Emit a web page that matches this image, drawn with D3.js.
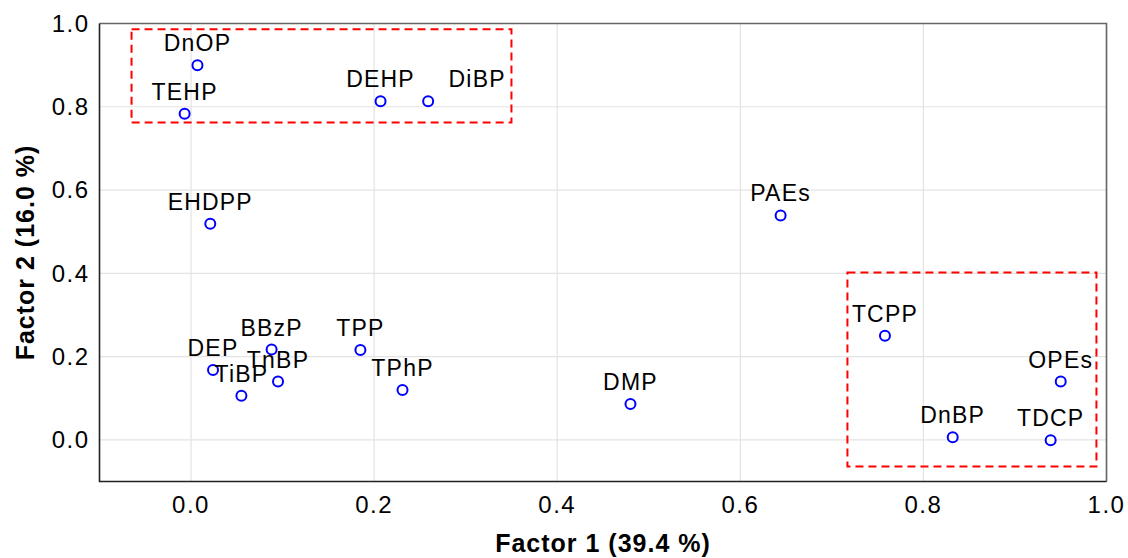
<!DOCTYPE html>
<meta charset="utf-8">
<style>
body { margin: 0; background: #fff; }
text { font-family: "Liberation Sans", Arial, sans-serif; fill: #000; }
.grid line { stroke: #e3e3e3; stroke-width: 1.2px; }
.tick-label { font-size: 24px; letter-spacing: 1.5px; }
.pt-label { font-size: 23px; letter-spacing: 1.2px; }
.axis-title { font-size: 25px; font-weight: bold; letter-spacing: 1px; }
.pts circle { fill: #fff; stroke: #0000ff; stroke-width: 2px; }
.box { fill: none; stroke: #ff0000; stroke-width: 2px; stroke-dasharray: 8,5; }
</style>
<svg width="1128" height="558"></svg>
<script src="https://d3js.org/d3.v7.min.js"></script>
<script>

// compound names and factor loadings
var names = ["DnOP", "TEHP", "DEHP", "DiBP", "EHDPP", "PAEs", "DEP", "TiBP", "BBzP", "TnBP",
             "TPP", "TPhP", "DMP", "TCPP", "OPEs", "DnBP", "TDCP"];
var factor1 = [0.007, -0.007, 0.207, 0.259, 0.021, 0.644, 0.024, 0.055, 0.088, 0.095,
               0.185, 0.231, 0.480, 0.758, 0.950, 0.832, 0.939];
var factor2 = [0.900, 0.783, 0.813, 0.813, 0.519, 0.539, 0.168, 0.106, 0.217, 0.140,
               0.216, 0.120, 0.086, 0.250, 0.140, 0.006, -0.001];

// dashed groupings [x1, x2, y1, y2] in data units
var groupBoxes = [[-0.065, 0.350, 0.762, 0.986], [0.717, 0.989, -0.064, 0.402]];

var xTicks = [0.0, 0.2, 0.4, 0.6, 0.8, 1.0];
var yTicks = [0.0, 0.2, 0.4, 0.6, 0.8, 1.0];

var svg = d3.select("svg"),
    width = +svg.attr("width"),
    height = +svg.attr("height"),
    margin = {top: 23.5, right: 21.5, bottom: 76.5, left: 99.5};

var x = d3.scaleLinear().domain([-0.1, 1.0]).range([margin.left, width - margin.right]);
var y = d3.scaleLinear().domain([-0.1, 1.0]).range([height - margin.bottom, margin.top]);

var grid = svg.append("g").attr("class", "grid");
grid.selectAll("line.v").data(xTicks).enter().append("line")
    .attr("x1", function(d) { return x(d); }).attr("x2", function(d) { return x(d); })
    .attr("y1", y(-0.1)).attr("y2", y(1.0));
grid.selectAll("line.h").data(yTicks).enter().append("line")
    .attr("y1", function(d) { return y(d); }).attr("y2", function(d) { return y(d); })
    .attr("x1", x(-0.1)).attr("x2", x(1.0));

// frame
svg.append("path")
    .attr("d", "M" + x(-0.1) + "," + y(1.0) + "H" + x(1.0) + "V" + y(-0.1))
    .attr("fill", "none").attr("stroke", "#666").attr("stroke-width", 1.6);
svg.append("path")
    .attr("d", "M" + x(-0.1) + "," + y(1.0) + "V" + y(-0.1) + "H" + x(1.0))
    .attr("fill", "none").attr("stroke", "#222").attr("stroke-width", 1.6);

// tick labels
svg.append("g").selectAll("text").data(xTicks).enter().append("text")
    .attr("class", "tick-label")
    .attr("x", function(d) { return x(d); })
    .attr("y", y(-0.1) + 31)
    .attr("text-anchor", "middle")
    .text(d3.format(".1f"));
svg.append("g").selectAll("text").data(yTicks).enter().append("text")
    .attr("class", "tick-label")
    .attr("x", x(-0.1) - 10)
    .attr("y", function(d) { return y(d); })
    .attr("dy", "0.35em")
    .attr("text-anchor", "end")
    .text(d3.format(".1f"));

// group boxes
svg.append("g").selectAll("rect").data(groupBoxes).enter().append("rect")
    .attr("class", "box")
    .attr("x", function(d) { return x(d[0]); })
    .attr("width", function(d) { return x(d[1]) - x(d[0]); })
    .attr("y", function(d) { return y(d[3]); })
    .attr("height", function(d) { return y(d[2]) - y(d[3]); });

var pts = names.map(function(n, i) { return {name: n, f1: factor1[i], f2: factor2[i]}; });

// DiBP label sits to the right of its point
var nudge = {DiBP: 49};

var g = svg.append("g").attr("class", "pts");
g.selectAll("circle").data(pts).enter().append("circle")
    .attr("cx", function(d) { return x(d.f1); })
    .attr("cy", function(d) { return y(d.f2); })
    .attr("r", 5);
svg.append("g").selectAll("text").data(pts).enter().append("text")
    .attr("class", "pt-label")
    .attr("x", function(d) { return x(d.f1) + (nudge[d.name] || 0); })
    .attr("y", function(d) { return y(d.f2) - 14; })
    .attr("text-anchor", "middle")
    .text(function(d) { return d.name; });

// axis titles
svg.append("text").attr("class", "axis-title")
    .attr("x", (x(-0.1) + x(1.0)) / 2)
    .attr("y", 552)
    .attr("text-anchor", "middle")
    .text("Factor 1 (39.4 %)");
svg.append("text").attr("class", "axis-title")
    .attr("transform", "translate(34," + ((y(-0.1) + y(1.0)) / 2) + ") rotate(-90)")
    .attr("text-anchor", "middle")
    .text("Factor 2 (16.0 %)");

</script>
